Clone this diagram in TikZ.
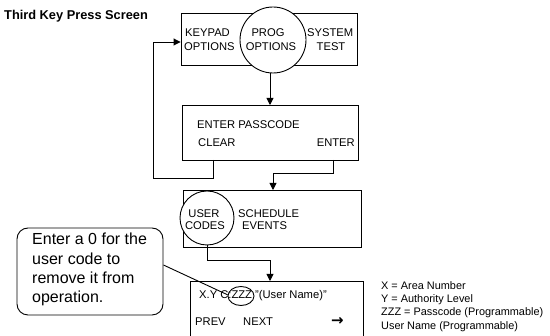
\documentclass[tikz,border=0pt]{standalone}
\usepackage{fontspec}
\setmainfont{Liberation Sans}
\newfontfamily\arrowfont{DejaVu Sans}
\usetikzlibrary{shapes.geometric,arrows.meta}
\begin{document}
\begin{tikzpicture}[x=1pt,y=-1pt,
  box/.style={draw,line width=0.9pt,minimum width=#1,inner sep=0pt},
  circ/.style={draw,circle,fill=white,line width=0.9pt,minimum size=#1,inner sep=0pt},
  lbl/.style={font=\fontsize{11.2}{12}\selectfont,inner sep=0pt},
  leg/.style={font=\fontsize{10.9}{12}\selectfont,inner sep=0pt,anchor=west},
  conn/.style={line width=0.9pt},
  arr/.style={conn,-{Triangle[length=7pt,width=7pt]}}]
\useasboundingbox (0,0) rectangle (550,336);
\begin{scope}
\clip (0,0) rectangle (550,336);
% title
\node[font=\bfseries\fontsize{12.8}{14}\selectfont,anchor=west,inner sep=0pt] (title) at (4,16) {Third Key Press Screen};
% boxes
\node[box=176pt,minimum height=52pt] (top) at (269,39) {};
\node[box=176pt,minimum height=55pt] (b2) at (270,132.5) {};
\node[box=178pt,minimum height=57pt] (b3) at (272,218.5) {};
\node[box=173pt,minimum height=66pt] (b4) at (276.5,314) {};
% circles
\node[circ=66pt] (prog) at (273,40) {};
\node[circ=54pt] (user) at (207,218) {};
% top box texts
\node[lbl,anchor=west] (kp) at (185,33) {KEYPAD};
\node[lbl,anchor=west] (ko) at (184,47) {OPTIONS};
\node[lbl] (pp) at (268,33) {PROG};
\node[lbl] (po) at (271,47) {OPTIONS};
\node[lbl,anchor=west] (ss) at (307,33) {SYSTEM};
\node[lbl] (st) at (331,47) {TEST};
% box2 texts
\node[lbl,anchor=west] (ep) at (197,125) {ENTER PASSCODE};
\node[lbl,anchor=west] (cl) at (198,143) {CLEAR};
\node[lbl,anchor=east] (en) at (355,143) {ENTER};
% box3 texts
\node[lbl] (us) at (204,214) {USER};
\node[lbl] (co) at (205,226) {CODES};
\node[lbl,anchor=west] (sc) at (238,214) {SCHEDULE};
\node[lbl,anchor=west] (ev) at (242,226) {EVENTS};
% box4 texts
\node[lbl,anchor=west] (xy) at (199,296) {X.Y C:ZZZ "(User Name)"};
\node[lbl,anchor=west] (pv) at (195,322) {PREV};
\node[lbl,anchor=west] (nx) at (243,322) {NEXT};
\node[anchor=west,inner sep=0pt,font=\arrowfont\bfseries\fontsize{15}{15}\selectfont] (ra) at (331,321) {→};
\node[draw,ellipse,line width=0.9pt,minimum width=26pt,minimum height=19pt,inner sep=0pt] (zz) at (241,296) {};
% callout
\node[draw,line width=0.9pt,rounded corners=11pt,minimum width=146pt,minimum height=87pt,inner sep=0pt] (call) at (90,271.5) {};
\node[anchor=north west,align=left,inner sep=0pt,font=\fontsize{16}{19.3}\selectfont] (ct) at (32,233) {Enter a 0 for the\\user code to\\remove it from\\operation.};
% legend
\node[leg] (l1) at (381,286) {X = Area Number};
\node[leg] (l2) at (381,299.5) {Y = Authority Level};
\node[leg] (l3) at (381,313) {ZZZ = Passcode (Programmable)};
\node[leg] (l4) at (381,326.5) {User Name (Programmable)};
% connectors
\coordinate (clr) at (213,160);
\coordinate (ent) at (333,160);
\coordinate (b2in) at (270,105);
\coordinate (b3in) at (273,190);
\coordinate (b4in) at (270,281);
\draw[arr] (prog.south -| b2in) -- (b2in);
\draw[arr] (clr) |- (153,178) |- ([yshift=-3pt]top.west);
\draw[arr] (ent) |- (273,173) -- (b3in);
\draw[arr] (user.south) |- (270,260) -- (b4in);
\draw[conn] ([yshift=6.5pt]call.east) -- (zz.175);
\end{scope}
\end{tikzpicture}
\end{document}
